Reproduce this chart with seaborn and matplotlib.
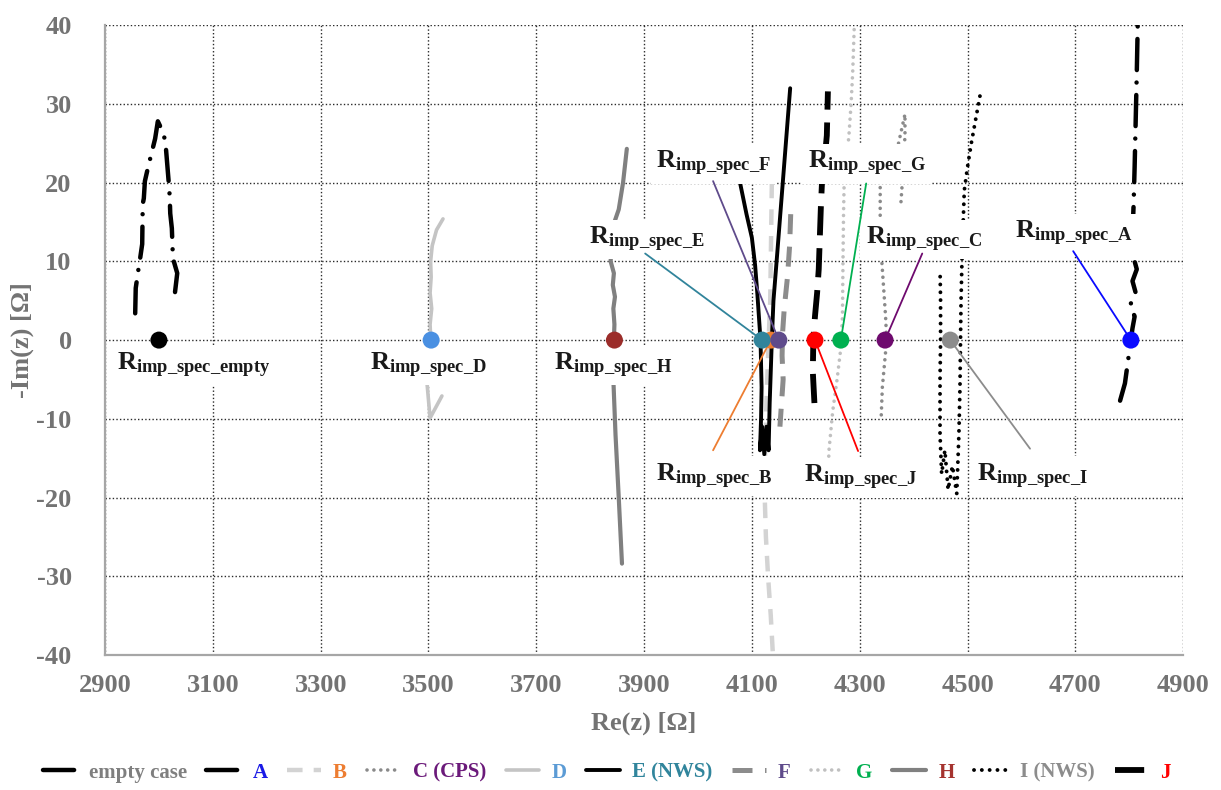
import matplotlib
matplotlib.use("Agg")
import matplotlib.pyplot as plt
import seaborn as sns
import pandas as pd
from matplotlib.lines import Line2D

sns.set_theme(style="white")
plt.rcParams["font.family"] = ["Liberation Serif", "DejaVu Serif"]
plt.rcParams["font.weight"] = "bold"
plt.rcParams["axes.unicode_minus"] = False
plt.rcParams["mathtext.fontset"] = "custom"
plt.rcParams["mathtext.rm"] = "Liberation Serif"
plt.rcParams["mathtext.bf"] = "Liberation Serif:bold"
plt.rcParams["mathtext.it"] = "Liberation Serif:italic"

# ---- impedance spectra: Re(z) [Ohm] and -Im(z) [Ohm] per sample ----
re_empty = [2956, 2957, 2962, 2965, 2969, 2970, 2972, 2974, 2980, 2993, 2998, 3009, 3013, 3018, 3020, 3021, 3024, 3026, 3034, 3028]
im_empty = [3.4, 6.6, 9.0, 10.3, 12.2, 17.3, 18.0, 20.2, 22.0, 25.6, 27.8, 26.2, 24.4, 20.2, 18.3, 16.1, 14.2, 10.4, 8.5, 5.0]

re_A = [4783, 4792, 4798, 4803, 4806, 4810, 4802, 4812, 4806, 4814, 4808, 4812, 4806, 4808, 4810, 4812, 4814, 4816]
im_A = [-7.7, -5.5, -2.5, 0, 1.5, 3, 4.5, 6, 7.5, 9, 10.5, 12, 13.5, 17, 22, 28, 34, 41]

re_B = [4137, 4136, 4135, 4134, 4131, 4127, 4123, 4126, 4130, 4135, 4139, 4141]
im_B = [20, 15, 10, 5, 0, -8, -18, -25, -30, -35, -40, -43]

re_C = [4340, 4342, 4346, 4350, 4348, 4345, 4342, 4340, 4338, 4338, 4350, 4372, 4384, 4384, 4380, 4376]
im_C = [-9.5, -6, -3, 0, 3, 6, 9, 11, 15, 19.5, 22, 25, 28.7, 26, 21, 17]

re_D = [3525, 3503, 3497, 3500, 3504, 3503, 3506, 3503, 3505, 3504, 3507, 3515, 3527]
im_D = [-7.1, -9.9, -5.2, -2, 0.5, 2, 4, 6, 8, 10, 12, 14, 15.4]

re_E = [4078, 4090, 4100, 4106, 4110, 4113, 4116, 4118, 4117, 4115, 4119, 4123, 4127, 4131, 4133, 4135, 4137, 4140, 4147, 4155, 4163, 4171]
im_E = [20, 16, 13, 9.5, 6, 3, 0, -6, -10, -14, -11, -14.5, -11, -14, -8, -4, 0, 5, 11, 18, 25, 32]

re_F = [4172, 4170, 4166, 4160, 4157, 4156, 4158, 4155, 4152]
im_F = [16, 12, 8, 4, 1, -2, -5, -8, -11]

re_G = [4240, 4243, 4250, 4258, 4265, 4268, 4269, 4270, 4271, 4280, 4284, 4287, 4290]
im_G = [-20, -14, -9, -5, -1, 3, 10, 16, 19.5, 26, 30, 34, 40]

re_H = [3859, 3853, 3847, 3843, 3841, 3844, 3845, 3843, 3846, 3842, 3844, 3838, 3840, 3845, 3853, 3861, 3868]
im_H = [-28.4, -20, -12, -5, -2, 0, 2, 4, 5.5, 7, 8.5, 10, 13, 15, 16.6, 20, 24.3]

re_I = [4523, 4515, 4507, 4500, 4494, 4492, 4490, 4488, 4487, 4486, 4484, 4480, 4472, 4464, 4458, 4452, 4449, 4449, 4450, 4450, 4449]
im_I = [31, 28, 25, 22, 19, 15, 11, 5, 0, -6, -12, -19.5, -16, -19, -14, -17, -12, -5, 0, 5, 9]

re_J = [4216, 4213, 4214, 4217, 4221, 4224, 4226, 4228, 4230, 4235, 4239, 4241]
im_J = [-8, -4, 0, 3, 6, 9, 13, 17, 20, 23, 26, 31.6]

sample_names = ["empty case", "A", "B", "C (CPS)", "D", "E (NWS)", "F", "G", "H", "I (NWS)", "J"]
spectra_re = [re_empty, re_A, re_B, re_C, re_D, re_E, re_F, re_G, re_H, re_I, re_J]
spectra_im = [im_empty, im_A, im_B, im_C, im_D, im_E, im_F, im_G, im_H, im_I, im_J]

# ---- extracted R_imp_spec values (on the real axis) ----
r_keys = ["empty", "A", "B", "C", "D", "E", "F", "G", "H", "I", "J"]
r_values = [3000, 4803, 4135, 4347, 3505, 4119, 4150, 4265, 3845, 4468, 4217]
r_im = [0] * len(r_keys)

# ---- styling ----
line_styles = {
    "empty case": dict(color="black", lw=3.2, ls=(0, (7, 2.8, 0.01, 2.8)), cap="round"),
    "A": dict(color="black", lw=3.2, ls=(0, (7, 2.8, 0.01, 2.8)), cap="round"),
    "B": dict(color="#d3d3d3", lw=3.2, ls=(0, (3.5, 2.5)), cap="butt"),
    "C (CPS)": dict(color="#8a8a8a", lw=2.6, ls=(0, (0.01, 1.9)), cap="round"),
    "D": dict(color="#c4c4c4", lw=2.6, ls="-", cap="round"),
    "E (NWS)": dict(color="black", lw=2.8, ls="-", cap="round"),
    "F": dict(color="#8c8c8c", lw=3.6, ls=(0, (4, 2.5)), cap="butt"),
    "G": dict(color="#c0c0c0", lw=2.6, ls=(0, (0.01, 1.9)), cap="round"),
    "H": dict(color="#808080", lw=3.0, ls="-", cap="round"),
    "I (NWS)": dict(color="black", lw=2.8, ls=(0, (0.01, 2.0)), cap="round"),
    "J": dict(color="black", lw=4.2, ls=(0, (5, 2.2)), cap="butt"),
}
legend_text_colors = ["#7f7f7f", "#1a1ae6", "#ed7d31", "#6b1a7a", "#5b9bd5", "#31859c",
                      "#5f4b8b", "#00b050", "#a5332f", "#8c8c8c", "#ff0000"]
point_colors = {"empty": "black", "A": "#0a0aff", "B": "#ed7d31", "C": "#6e0a6e", "D": "#4a90e2",
                "E": "#31849b", "F": "#5f4b8b", "G": "#00b050", "H": "#9b2d2a", "I": "#8c8c8c",
                "J": "#ff0000"}

# label centre (Re, -Im) and connector start; None = no connector
label_pos = {
    "empty": (3065, -3.2, None), "D": (3500, -3.2, None), "H": (3843, -3.2, None),
    "E": (3905, 12.8, (3902, 11.0)), "F": (4029, 22.4, (4028, 20.2)),
    "G": (4313, 22.4, (4312, 19.9)), "C": (4419, 12.8, (4416, 11.0)),
    "A": (4698, 13.5, (4696, 11.3)), "B": (4029, -17.3, (4028, -14.0)),
    "J": (4302, -17.5, (4297, -14.1)), "I": (4620, -17.3, (4616, -13.8)),
}

rows = []
for name, xs, ys in zip(sample_names, spectra_re, spectra_im):
    for i, (x, y) in enumerate(zip(xs, ys)):
        rows.append({"sample": name, "order": i, "re": x, "im": y})
spectra = pd.DataFrame(rows)

fig = plt.figure(figsize=(12.21, 7.90), dpi=100)
ax = fig.add_axes([0.086, 0.171, 0.883, 0.797])

for name in sample_names:
    st = line_styles[name]
    sub = spectra[spectra["sample"] == name]
    sns.lineplot(data=sub, x="re", y="im", sort=False, estimator=None, ax=ax,
                 color=st["color"], linewidth=st["lw"], linestyle=st["ls"],
                 dash_capstyle=st["cap"], solid_capstyle=st["cap"], zorder=2, legend=False)

points = pd.DataFrame({"key": r_keys, "re": r_values, "im": r_im})
sns.scatterplot(data=points, x="re", y="im", hue="key", palette=point_colors, s=150,
                edgecolor="none", linewidth=0, ax=ax, zorder=6, legend=False)

for key, rv in zip(r_keys, r_values):
    lx, ly, start = label_pos[key]
    ax.text(lx, ly, r"$\mathbf{R}_{\mathbf{imp\_spec\_%s}}$" % key, ha="center", va="center",
            fontsize=19, color="#1a1a1a", zorder=3,
            bbox=dict(boxstyle="square,pad=0.2", fc="white", ec="none"))
    if start is not None:
        ax.plot([start[0], rv], [start[1], 0], color=point_colors[key], lw=1.3, zorder=5)

ax.set_xlim(2900, 4900)
ax.set_ylim(-40, 40)
ax.set_xticks(range(2900, 4901, 200))
ax.set_yticks(range(-40, 41, 10))
ax.grid(True, color="#2a2a2a", linestyle=(0, (1, 1.6)), linewidth=1.0)
ax.set_axisbelow(True)
for side in ["top", "right"]:
    ax.spines[side].set_visible(False)
for side in ["left", "bottom"]:
    ax.spines[side].set_color("#a6a6a6")
    ax.spines[side].set_linewidth(1.6)
    ax.spines[side].set_zorder(7)
ax.tick_params(axis="both", length=0, labelsize=19, labelcolor="#737373")
ax.tick_params(axis="y", pad=24)
ax.tick_params(axis="x", pad=14)
for lab in ax.get_xticklabels() + ax.get_yticklabels():
    lab.set_fontweight("bold")
ax.set_xlabel("Re(z) [Ω]", fontsize=19, fontweight="bold", color="#737373", labelpad=10)
ax.set_ylabel("-Im(z) [Ω]", fontsize=19, fontweight="bold", color="#737373", labelpad=2)

handles = []
for name in sample_names:
    st = line_styles[name]
    handles.append(Line2D([0], [0], color=st["color"], lw=st["lw"], linestyle=st["ls"],
                          dash_capstyle=st["cap"], solid_capstyle=st["cap"]))
leg = fig.legend(handles, sample_names, loc="center", bbox_to_anchor=(0.497, 0.022), ncol=11,
                 frameon=False, handlelength=1.6, handletextpad=0.6,
                 columnspacing=0.95, prop={"weight": "bold", "size": 15})
for txt, c in zip(leg.get_texts(), legend_text_colors):
    txt.set_color(c)

fig.savefig("out.png", dpi=100)
